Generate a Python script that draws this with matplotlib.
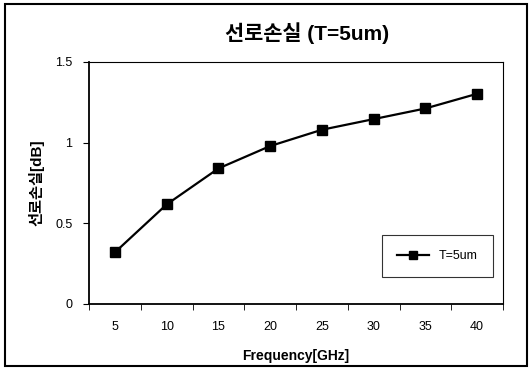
from matplotlib import pyplot as plt
from matplotlib.patches import Rectangle

freq = [5, 10, 15, 20, 25, 30, 35, 40]
loss = [0.32, 0.617, 0.84, 0.979, 1.08, 1.146, 1.212, 1.303]
yticks = [0, 0.5, 1, 1.5]

plt.rcParams['font.family'] = ['Liberation Sans', 'Noto Sans CJK KR']

fig = plt.figure(figsize=(5.29, 3.75), dpi=100)
ax = fig.add_axes([89/529, 1 - 304/375, 414/529, 242/375])

pos = list(range(1, len(freq) + 1))
ax.plot(pos, loss, color='black', lw=1.6, marker='s', ms=7.5, mfc='black', label='T=5um')

ax.set_xlim(0.5, len(freq) + 0.5)
ax.set_ylim(0, 1.5)
ax.set_xticks(pos)
ax.set_xticklabels([str(f) for f in freq])
ax.set_xticks([p + 0.5 for p in range(len(freq) + 1)], minor=True)
ax.tick_params(axis='x', which='major', length=0, pad=12, labelsize=9)
ax.tick_params(axis='x', which='minor', length=4, direction='out')
ax.set_yticks(yticks)
ax.set_yticklabels(['0', '0.5', '1', '1.5'])
ax.tick_params(axis='y', length=4, direction='out', labelsize=9, pad=8)
for s in ['left', 'bottom']:
    ax.spines[s].set_linewidth(1.3)
for s in ['top', 'right']:
    ax.spines[s].set_linewidth(0.8)

ax.set_xlabel('Frequency[GHz]', fontsize=10, fontweight='bold', labelpad=12)
ax.set_ylabel('선로손실[dB]', fontsize=11, fontweight='bold', labelpad=8)
fig.text(307/529, 1 - 33/375, '선로손실 (T=5um)', fontsize=15, fontweight='bold',
         ha='center', va='center')

leg = ax.legend(loc='lower right', bbox_to_anchor=(0.99, 0.085), fontsize=9,
                frameon=True, fancybox=False, edgecolor='black', handlelength=2.5,
                borderpad=1.2, markerscale=0.8)
leg.get_frame().set_linewidth(0.8)

fig.patches.append(Rectangle((5/529, 1 - 366/375), 522/529, 362/375, transform=fig.transFigure,
                             fill=False, edgecolor='black', lw=1.5))

fig.savefig('out.png', dpi=100)
